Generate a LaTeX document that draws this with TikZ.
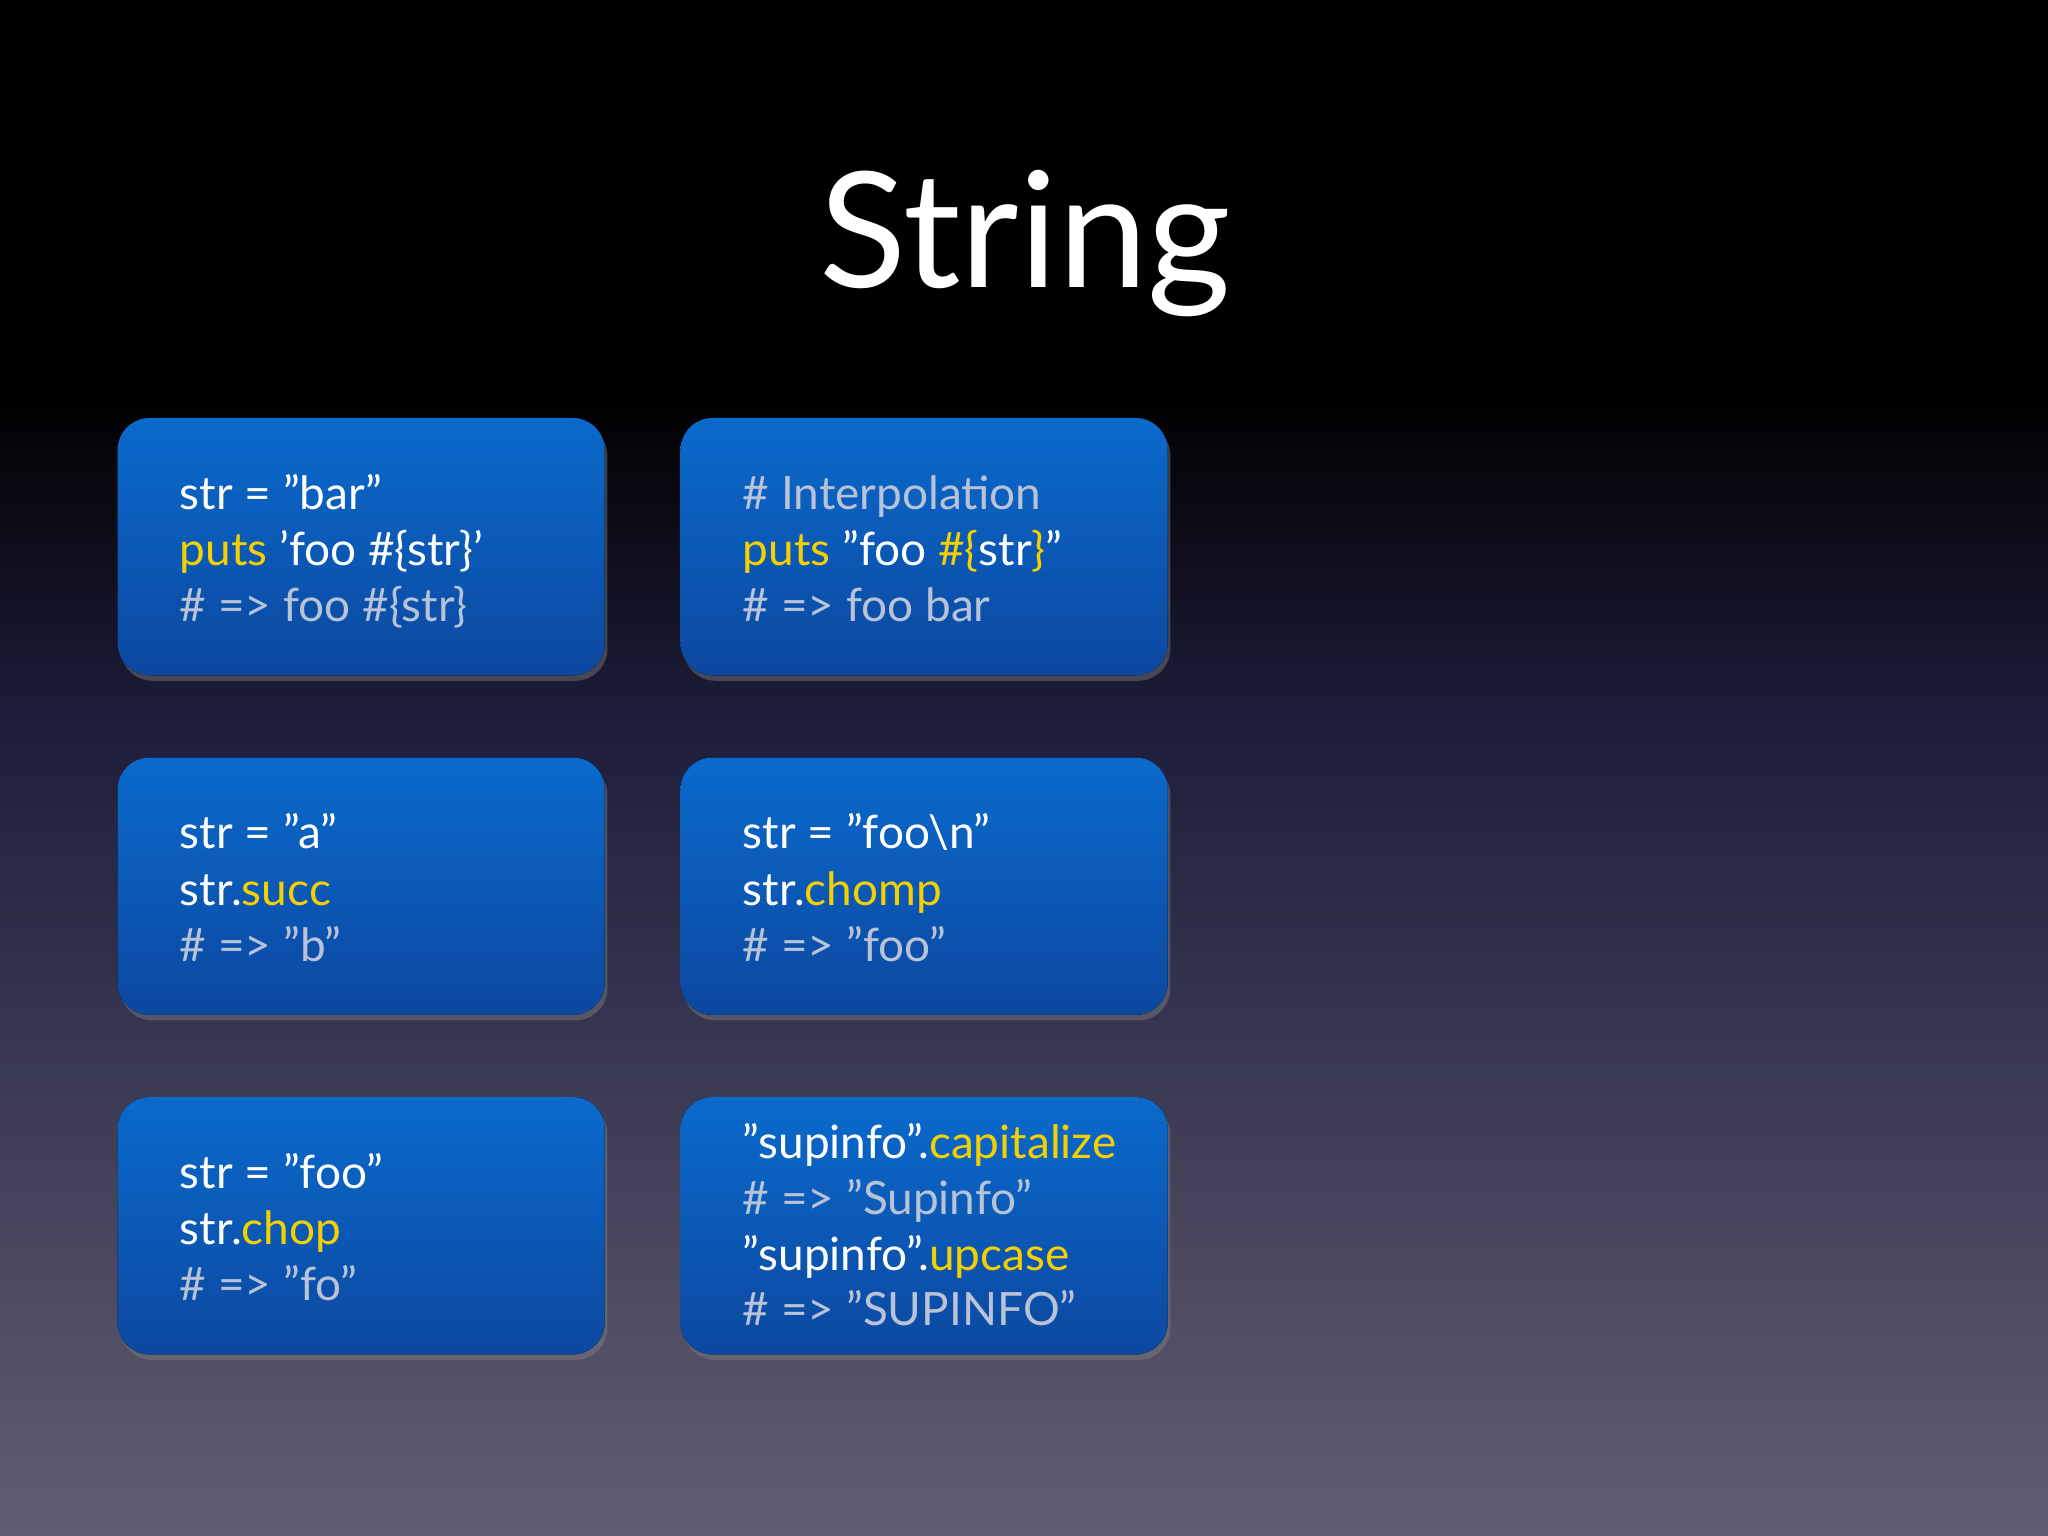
\documentclass[tikz,border=0pt]{standalone}
\usepackage{fontspec}
\defaultfontfeatures{Ligatures=ResetAll}
\setmainfont{Lato}[Ligatures=ResetAll]
\usetikzlibrary{shadows}
\definecolor{yel}{RGB}{245,208,0}
\definecolor{cmt}{RGB}{185,195,215}
\definecolor{btop}{RGB}{10,106,204}
\definecolor{bbot}{RGB}{12,72,160}
\definecolor{bgmid}{RGB}{30,30,60}
\definecolor{bgbot}{RGB}{98,94,114}
\tikzset{
 card/.style={rounded corners=7pt, top color=btop, bottom color=bbot, draw=none, drop shadow={shadow xshift=0.6pt, shadow yshift=-1.2pt, opacity=0.45}},
 code/.style={anchor=base west, inner sep=0pt, text=white, font=\fontsize{10pt}{12pt}\selectfont}
}
\newcommand{\Y}[1]{\textcolor{yel}{#1}}
\newcommand{\C}[1]{\textcolor{cmt}{#1}}
\newcommand{\q}{\symbol{34}}
\newcommand{\sq}{\symbol{39}}
\begin{document}
\begin{tikzpicture}[x=0.01cm,y=-0.01cm]
\useasboundingbox (0,0) rectangle (1568,1176);
\fill[black] (0,0) rectangle (1568,300);
\shade[top color=black, bottom color=bgmid] (0,299) rectangle (1568,560);
\shade[top color=bgmid, bottom color=bgbot] (0,559) rectangle (1568,1176);
\node[text=white, font=\fontsize{35pt}{38pt}\selectfont, anchor=base] (title) at (785,220) {String};
\foreach \n/\x/\y in {a/90/320,b/521/320,c/90/580,d/521/580,e/90/840,f/521/840}{
 \fill[card] (\x,\y) rectangle ++(373,197);
}
\node[code] (a1) at (137,390) {str = \q bar\q};
\node[code] (a2) at (137,433) {\Y{puts} \sq foo \#\{str\}\sq};
\node[code] (a3) at (137,476) {\C{\# => foo \#\{str\}}};
\node[code] (b1) at (568,390) {\C{\# Interpolation}};
\node[code] (b2) at (568,433) {\Y{puts} \q foo \Y{\#\{}str\Y{\}}\q};
\node[code] (b3) at (568,476) {\C{\# => foo bar}};
\node[code] (c1) at (137,650) {str = \q a\q};
\node[code] (c2) at (137,693) {str.\Y{succ}};
\node[code] (c3) at (137,736) {\C{\# => \q b\q}};
\node[code] (d1) at (568,650) {str = \q foo\textbackslash n\q};
\node[code] (d2) at (568,693) {str.\Y{chomp}};
\node[code] (d3) at (568,736) {\C{\# => \q foo\q}};
\node[code] (e1) at (137,910) {str = \q foo\q};
\node[code] (e2) at (137,953) {str.\Y{chop}};
\node[code] (e3) at (137,996) {\C{\# => \q fo\q}};
\node[code] (f1) at (568,887) {\q supinfo\q.\Y{capitalize}};
\node[code] (f2) at (568,930) {\C{\# => \q Supinfo\q}};
\node[code] (f3) at (568,973) {\q supinfo\q.\Y{upcase}};
\node[code] (f4) at (568,1015) {\C{\# => \q SUPINFO\q}};
\end{tikzpicture}
\end{document}
